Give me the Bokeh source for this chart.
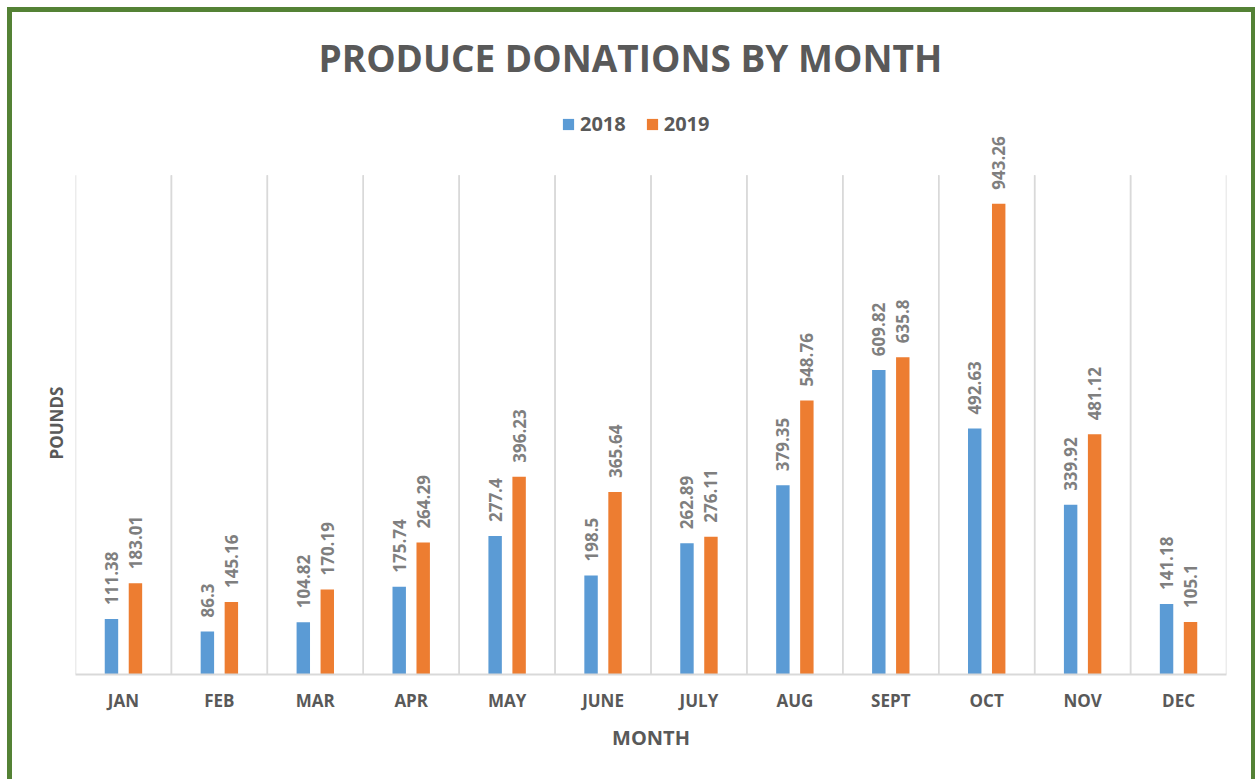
import math
from bokeh.plotting import figure
from bokeh.models import (ColumnDataSource, FactorRange, Range1d, Legend, LegendItem,
                          LabelSet, Title)
from bokeh.core.properties import value
from bokeh.transform import dodge
from bokeh.embed import file_html
from bokeh.resources import INLINE

months = ["JAN", "FEB", "MAR", "APR", "MAY", "JUNE", "JULY", "AUG", "SEPT", "OCT", "NOV", "DEC"]
pounds_2018 = [111.38, 86.3, 104.82, 175.74, 277.4, 198.5, 262.89, 379.35, 609.82, 492.63, 339.92, 141.18]
pounds_2019 = [183.01, 145.16, 170.19, 264.29, 396.23, 365.64, 276.11, 548.76, 635.8, 943.26, 481.12, 105.1]
series = ["2018", "2019"]
colors = ["#5B9BD5", "#ED7D31"]
plot_top = 1000      # top of the gridded plot area (pounds)
y_max = 1150         # room above for the legend

FONT = "Open Sans"
DARK = "#595959"
GRID = "#D9D9D9"

src = ColumnDataSource(dict(
    month=months,
    y2018=pounds_2018,
    y2019=pounds_2019,
    l2018=[str(v) for v in pounds_2018],
    l2019=[str(v) for v in pounds_2019],
    base=[0] * len(months),
    gtop=[plot_top] * len(months),
))

p = figure(
    x_range=FactorRange(factors=months),
    y_range=Range1d(0, y_max),
    width=1255, height=779,
    output_backend="svg", toolbar_location=None,
    min_border_left=75, min_border_right=29, min_border_top=100, min_border_bottom=105,
    title="PRODUCE DONATIONS BY MONTH",
)
p.styles = {
    "background-color": "white",
    "box-shadow": ("inset 7px 0 0 0 white, inset 0 7px 0 0 white, "
                   "inset 12px 0 0 0 #548235, inset 0 12px 0 0 #548235, inset -4px 0 0 0 #548235"),
}
p.border_fill_color = None
p.background_fill_color = None
p.outline_line_color = None

# title
p.title.text_font = FONT
p.title.text_font_size = "37px"
p.title.text_font_style = "bold"
p.title.text_color = DARK
p.title.align = "left"
p.title.offset = 243
p.title.standoff = 35

# category separators
for off in (-0.5, 0.5):
    p.segment(x0=dodge("month", off, range=p.x_range), x1=dodge("month", off, range=p.x_range),
              y0="base", y1="gtop", source=src, line_color=GRID, line_width=1.5)

offsets = [-0.125, 0.125]
renderers = []
for s, c, off in zip(series, colors, offsets):
    r = p.vbar(x=dodge("month", off, range=p.x_range), top="y" + s, width=0.14,
               source=src, fill_color=c, line_color=None)
    renderers.append(r)
    p.add_layout(LabelSet(x=dodge("month", off, range=p.x_range), y="y" + s, text="l" + s,
                          source=src, angle=math.pi / 2, text_align="left",
                          text_baseline="middle", y_offset=14,
                          text_font=value(FONT), text_font_size=value("17px"),
                          text_font_style=value("bold"), text_color=value("#7F7F7F")))

legend = Legend(items=[LegendItem(label=s, renderers=[r]) for s, r in zip(series, renderers)],
                orientation="horizontal", location=(486, 537),
                glyph_width=14, glyph_height=14, label_standoff=5, spacing=19,
                label_text_font=FONT, label_text_font_size="20px", label_text_font_style="bold",
                label_text_color=DARK, border_line_color=None, background_fill_alpha=0,
                padding=0, margin=0)
p.add_layout(legend)

p.xgrid.grid_line_color = None
p.ygrid.grid_line_color = None

xa = p.xaxis[0]
xa.axis_line_color = GRID
xa.axis_line_width = 2
xa.major_tick_line_color = None
xa.minor_tick_line_color = None
xa.major_label_standoff = 8
xa.major_label_text_font = FONT
xa.major_label_text_font_size = "17px"
xa.major_label_text_font_style = "bold"
xa.major_label_text_color = DARK
xa.axis_label = "MONTH"
xa.axis_label_text_font = FONT
xa.axis_label_text_font_size = "20px"
xa.axis_label_text_font_style = "bold"
xa.axis_label_text_color = DARK
xa.axis_label_standoff = 9

# y axis: no ticks or labels, only its title
p.yaxis.visible = False
p.add_layout(Title(text="POUNDS", align="left", offset=215, standoff=16,
                   text_font=FONT, text_font_size="17px", text_font_style="bold",
                   text_color=DARK), "left")

open("out.html", "w").write(file_html(p, INLINE))
